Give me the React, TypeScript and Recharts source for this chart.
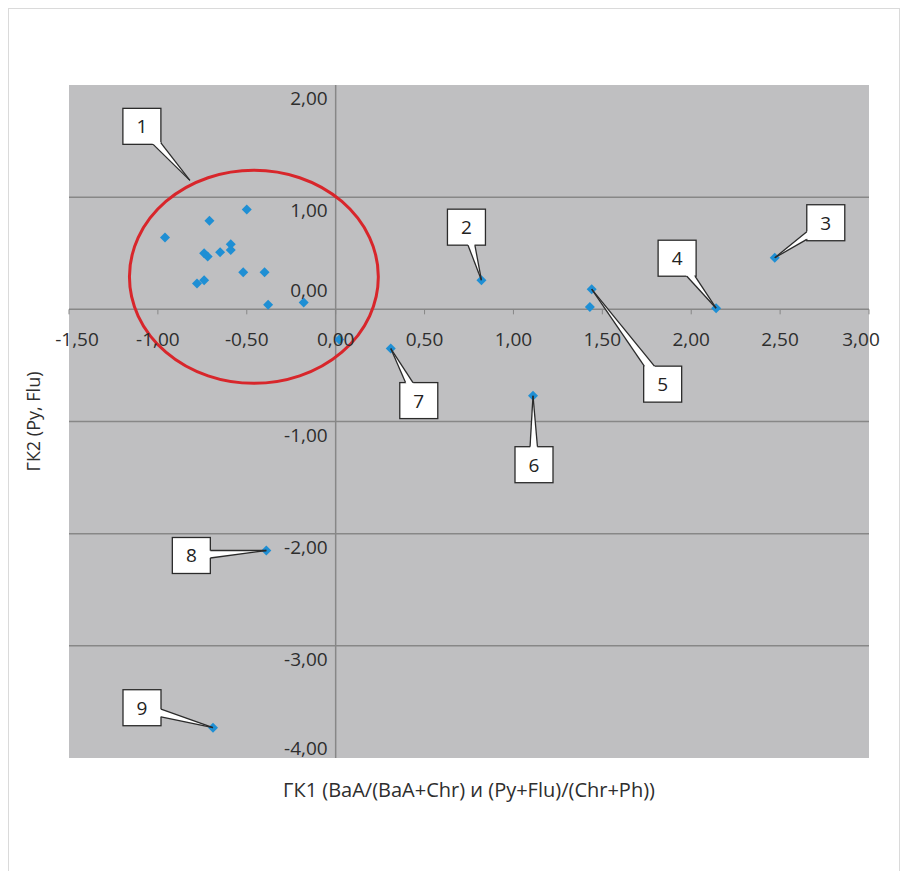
import React from 'react';
import type { CSSProperties } from 'react';
import { ScatterChart, Scatter, XAxis, YAxis, CartesianGrid, ReferenceLine, ReferenceDot } from 'recharts';

// axis ticks
const xTicks = [-1.5, -1, -0.5, 0, 0.5, 1, 1.5, 2, 2.5, 3];
const yTicks = [-4, -3, -2, -1, 0, 1, 2];
const yGridValues = [-3, -2, -1, 1];

// group 1 (unlabelled points inside the red ellipse) + two stray points
const groupX = [-0.96, -0.71, -0.5, -0.74, -0.72, -0.65, -0.59, -0.59, -0.52, -0.4, -0.78, -0.74, -0.38, -0.18, 0.02, 1.43];
const groupY = [0.64, 0.79, 0.89, 0.5, 0.47, 0.51, 0.58, 0.53, 0.33, 0.33, 0.23, 0.26, 0.04, 0.06, -0.27, 0.02];

// labelled points 2..9
const labelIds = ['2', '3', '4', '5', '6', '7', '8', '9'];
const labelX = [0.82, 2.47, 2.14, 1.44, 1.11, 0.31, -0.39, -0.69];
const labelY = [0.26, 0.46, 0.01, 0.18, -0.77, -0.35, -2.15, -3.73];

// ellipse around group 1 and where its callout points to
const cluster = { x: -0.46, y: 0.29, rx: 0.7, ry: 0.95 };
const clusterTip = { x: -0.82, y: 1.15, id: '1' };

const xTitle = 'ГК1 (BaA/(BaA+Chr) и (Py+Flu)/(Chr+Ph))';
const yTitle = 'ГК2 (Py, Flu)';

// layout
const W = 904;
const H = 871;
const PLOT_LEFT = 69;
const PLOT_TOP = 85;
const PLOT_RIGHT = 869;
const PLOT_BOTTOM = 758;
const X_AXIS_H = 40;
const X_MIN = -1.5;
const X_MAX = 3;
const Y_MIN = -4;
const Y_MAX = 2;
const PX_X = (PLOT_RIGHT - PLOT_LEFT) / (X_MAX - X_MIN);
const PX_Y = (PLOT_BOTTOM - PLOT_TOP) / (Y_MAX - Y_MIN);
const AXIS_X = PLOT_LEFT + (0 - X_MIN) * PX_X;
const AXIS_Y = PLOT_TOP + (Y_MAX - 0) * PX_Y;

const FONT = '"Open Sans", sans-serif';
const MARKER = '#1f8fd4';
const GRID = '#878787';
const TEXT = '#2e2e2e';

// callout box centre relative to its tip, px
const calloutOffset: Record<string, { dx: number; dy: number }> = {
  '1': { dx: -48, dy: -54 },
  '2': { dx: -15, dy: -53 },
  '3': { dx: 51, dy: -35 },
  '4': { dx: -39, dy: -50 },
  '5': { dx: 71, dy: 95 },
  '6': { dx: 1, dy: 69 },
  '7': { dx: 28, dy: 52 },
  '8': { dx: -75, dy: 5 },
  '9': { dx: -71, dy: -20 },
};

const groupData = groupX.map((x, i) => ({ x, y: groupY[i] }));
const labelData = labelX.map((x, i) => ({ x, y: labelY[i], id: labelIds[i] }));

const fmt = (v: number) => v.toFixed(2).replace('.', ',');

const Diamond = (props: any) => {
  const { cx, cy } = props;
  const r = 5;
  return <polygon points={`${cx},${cy - r} ${cx + r},${cy} ${cx},${cy + r} ${cx - r},${cy}`} fill={MARKER} />;
};

function exitPoint(px: number, py: number, tx: number, ty: number, x0: number, y0: number, x1: number, y1: number) {
  const dx = tx - px;
  const dy = ty - py;
  const tX = dx > 0 ? (x1 - px) / dx : dx < 0 ? (x0 - px) / dx : Infinity;
  const tY = dy > 0 ? (y1 - py) / dy : dy < 0 ? (y0 - py) / dy : Infinity;
  const t = Math.min(tX, tY, 1);
  return [px + dx * t, py + dy * t];
}

const Callout = ({ cx, cy, id }: { cx: number; cy: number; id: string }) => {
  const off = calloutOffset[id];
  const w = 38;
  const h = 36;
  const bx = cx + off.dx;
  const by = cy + off.dy;
  const x0 = bx - w / 2;
  const y0 = by - h / 2;
  const len = Math.hypot(cx - bx, cy - by);
  const nx = -(cy - by) / len;
  const ny = (cx - bx) / len;
  const b1 = [bx + nx * 5, by + ny * 5];
  const b2 = [bx - nx * 5, by - ny * 5];
  const e1 = exitPoint(b1[0], b1[1], cx, cy, x0, y0, x0 + w, y0 + h);
  const e2 = exitPoint(b2[0], b2[1], cx, cy, x0, y0, x0 + w, y0 + h);
  return (
    <g>
      <rect x={x0} y={y0} width={w} height={h} fill="#fff" stroke="#2b2b2b" strokeWidth={1.3} />
      <polygon points={`${e1[0]},${e1[1]} ${cx},${cy} ${e2[0]},${e2[1]} ${bx},${by}`} fill="#fff" />
      <line x1={e1[0]} y1={e1[1]} x2={cx} y2={cy} stroke="#2b2b2b" strokeWidth={1.3} />
      <line x1={e2[0]} y1={e2[1]} x2={cx} y2={cy} stroke="#2b2b2b" strokeWidth={1.3} />
      <text x={bx} y={by} textAnchor="middle" dominantBaseline="central" fontFamily={FONT} fontSize={19} fill="#222">
        {id}
      </text>
    </g>
  );
};

const XTick = (props: any) => {
  const { x, payload } = props;
  const v = payload.value as number;
  const shift = v === X_MIN ? 8 : v === X_MAX ? -8 : 0;
  return (
    <g>
      <line x1={x} x2={x} y1={AXIS_Y} y2={AXIS_Y + 5} stroke={GRID} strokeWidth={1} />
      <text x={x + shift} y={AXIS_Y + 30} textAnchor="middle" dominantBaseline="central" fontFamily={FONT} fontSize={19} fill={TEXT}>
        {fmt(v)}
      </text>
    </g>
  );
};

const YTick = (props: any) => {
  const { y, payload } = props;
  const v = payload.value as number;
  const dy = v === 0 ? -19 : v === Y_MIN ? -10 : 13;
  return (
    <text x={AXIS_X - 8} y={y + dy} textAnchor="end" dominantBaseline="central" fontFamily={FONT} fontSize={19} fill={TEXT}>
      {fmt(v)}
    </text>
  );
};

const YTitle = (props: any) => {
  const { viewBox } = props;
  const cx = viewBox.x + 33;
  const cy = viewBox.y + viewBox.height / 2;
  return (
    <text x={cx} y={cy} transform={`rotate(-90, ${cx}, ${cy})`} textAnchor="middle" dominantBaseline="central" fontFamily={FONT} fontSize={18} fill={TEXT}>
      {yTitle}
    </text>
  );
};

const page: CSSProperties = {
  position: 'absolute',
  left: 0,
  top: 0,
  width: W,
  height: H,
  background: '#fff',
  overflow: 'hidden',
};

const frame: CSSProperties = {
  position: 'absolute',
  left: 8,
  top: 8,
  width: 890,
  height: 900,
  border: '1px solid #dadada',
};

export default function App() {
  return (
    <div style={page}>
      <div style={frame} />
      <div style={{ position: 'absolute', left: 0, top: 0 }}>
        <ScatterChart
          width={W}
          height={H}
          margin={{ top: PLOT_TOP, right: W - PLOT_RIGHT, left: 0, bottom: H - PLOT_BOTTOM - X_AXIS_H }}
        >
          <CartesianGrid fill="#bfbfc1" stroke={GRID} strokeWidth={1.5} vertical={false} horizontalValues={yGridValues} />
          <XAxis
            type="number"
            dataKey="x"
            domain={[X_MIN, X_MAX]}
            ticks={xTicks}
            interval={0}
            height={X_AXIS_H}
            axisLine={false}
            tickLine={false}
            tick={<XTick />}
            label={{ value: xTitle, position: 'insideBottom', offset: 1, fontFamily: FONT, fontSize: 20, fill: TEXT }}
          />
          <YAxis
            type="number"
            dataKey="y"
            domain={[Y_MIN, Y_MAX]}
            ticks={yTicks}
            interval={0}
            width={PLOT_LEFT}
            axisLine={false}
            tickLine={false}
            tick={<YTick />}
            label={<YTitle />}
          />
          <ReferenceLine x={0} stroke={GRID} strokeWidth={1.5} />
          <ReferenceLine y={0} stroke={GRID} strokeWidth={1.5} />
          <Scatter data={groupData} shape={<Diamond />} isAnimationActive={false} />
          <Scatter data={labelData} shape={<Diamond />} isAnimationActive={false} />
          <ReferenceDot
            x={cluster.x}
            y={cluster.y}
            shape={(p: any) => (
              <ellipse cx={p.cx} cy={p.cy} rx={cluster.rx * PX_X} ry={cluster.ry * PX_Y} fill="none" stroke="#d8262b" strokeWidth={3} />
            )}
          />
          <ReferenceDot
            x={clusterTip.x}
            y={clusterTip.y}
            shape={(p: any) => <Callout cx={p.cx} cy={p.cy} id={clusterTip.id} />}
          />
          <Scatter
            data={labelData}
            isAnimationActive={false}
            shape={(p: any) => <Callout cx={p.cx} cy={p.cy} id={p.payload.id} />}
          />
        </ScatterChart>
      </div>
    </div>
  );
}
